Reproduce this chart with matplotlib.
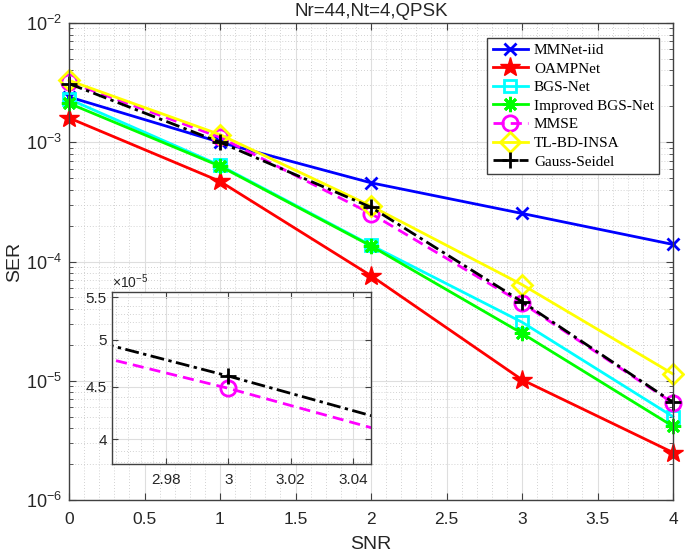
import numpy as np
import matplotlib
matplotlib.use('Agg')
import matplotlib.pyplot as plt
from matplotlib.ticker import MultipleLocator, FixedLocator, LogLocator, NullFormatter, FuncFormatter

# ---------------- data ----------------
snr = [0, 1, 2, 3, 4]
ser_mmnet = [2.40e-3, 1.00e-3, 4.57e-4, 2.53e-4, 1.39e-4]
ser_oamp = [1.60e-3, 4.70e-4, 7.60e-5, 1.02e-5, 2.50e-6]
ser_bgs = [2.30e-3, 6.40e-4, 1.37e-4, 3.10e-5, 5.00e-6]
ser_ibgs = [2.12e-3, 6.30e-4, 1.35e-4, 2.50e-5, 4.15e-6]
ser_mmse = [3.20e-3, 1.10e-3, 2.52e-4, 4.485e-5, 6.50e-6]
ser_tl = [3.30e-3, 1.16e-3, 2.92e-4, 6.40e-5, 1.14e-5]
ser_gs = [3.10e-3, 1.00e-3, 2.85e-4, 4.61e-5, 6.60e-6]

labels = ['MMNet-iid', 'OAMPNet', 'BGS-Net', 'Improved BGS-Net', 'MMSE',
          'TL-BD-INSA', 'Gauss-Seidel']
title = 'Nr=44,Nt=4,QPSK'
xticks_main = [0, 0.5, 1, 1.5, 2, 2.5, 3, 3.5, 4]
inset_xticks = [2.98, 3.0, 3.02, 3.04]
inset_yticks = [4e-5, 4.5e-5, 5e-5, 5.5e-5]
inset_ylabels = ['4', '4.5', '5', '5.5']

# ---------------- style ----------------
plt.rcParams['font.family'] = ['Liberation Sans', 'DejaVu Sans']
plt.rcParams['mathtext.fontset'] = 'custom'
plt.rcParams['mathtext.rm'] = 'Liberation Sans'
plt.rcParams['mathtext.it'] = 'Liberation Sans:italic'
plt.rcParams['mathtext.bf'] = 'Liberation Sans:bold'

axcol = '#404040'
txtcol = '#262626'
majgrid = '#dedede'
mingrid = '#c4c4c4'

asterisk = (8, 2, 0)
series = [
    (ser_mmnet, dict(color=(0, 0, 1), ls='-', marker='x', ms=9, mew=2, mfc='none')),
    (ser_oamp, dict(color=(1, 0, 0), ls='-', marker='*', ms=15, mew=1, mfc=(1, 0, 0))),
    (ser_bgs, dict(color=(0, 1, 1), ls='-', marker='s', ms=8, mew=2, mfc='none')),
    (ser_ibgs, dict(color=(0, 1, 0), ls='-', marker=asterisk, ms=11, mew=2, mfc='none')),
    (ser_mmse, dict(color=(1, 0, 1), ls=(0, (4, 2.2)), marker='o', ms=11, mew=2, mfc='none')),
    (ser_tl, dict(color=(1, 1, 0), ls='-', marker='D', ms=10, mew=2, mfc='none')),
    (ser_gs, dict(color=(0, 0, 0), ls=(0, (5, 1.6, 1.2, 1.6)), marker='+', ms=12, mew=2, mfc='none')),
]

fig = plt.figure(figsize=(6.85, 5.55), dpi=100)
ax = fig.add_axes([69 / 685, 1 - 500 / 555, (673 - 69) / 685, (500 - 23) / 555])

for (vals, st), lab in zip(series, labels):
    ax.plot(snr, vals, lw=2, label=lab, clip_on=False, **st)

ax.set_yscale('log')
ax.set_xlim(0, 4)
ax.set_ylim(1e-6, 1e-2)
ax.set_xticks(xticks_main)
ax.xaxis.set_major_formatter(FuncFormatter(lambda v, p: '%g' % v))
ax.xaxis.set_minor_locator(MultipleLocator(0.1))
ax.yaxis.set_major_locator(LogLocator(base=10, numticks=10))
ax.yaxis.set_minor_locator(LogLocator(base=10, subs=np.arange(2, 10), numticks=20))
ax.yaxis.set_minor_formatter(NullFormatter())

ax.grid(True, which='major', color=majgrid, lw=0.8, ls='-')
ax.grid(True, which='minor', color=mingrid, lw=0.6, ls=(0, (1, 2.5)))
ax.set_axisbelow(True)
for s in ax.spines.values():
    s.set_color(axcol)
    s.set_linewidth(1.0)
ax.tick_params(which='both', direction='in', top=True, right=True, colors=axcol,
               labelcolor=txtcol)
ax.tick_params(axis='x', labelsize=12.5, pad=9)
ax.tick_params(axis='y', labelsize=13, pad=5)
ax.tick_params(which='major', length=5)
ax.tick_params(axis='x', which='minor', length=0)
ax.tick_params(axis='y', which='minor', length=3)

ax.set_title(title, fontsize=13.5, color=txtcol, pad=5)
ax.set_xlabel('SNR', fontsize=14, color=txtcol, labelpad=6)
ax.set_ylabel('SER', fontsize=14, color=txtcol, labelpad=2)

leg = ax.legend(loc='upper right', bbox_to_anchor=(0.977, 0.9686), borderaxespad=0,
                prop={'family': 'Liberation Serif', 'size': 11}, fancybox=False,
                framealpha=1, edgecolor=axcol, handlelength=2.3, handletextpad=0.4,
                labelspacing=0.32, borderpad=0.35)
leg.get_frame().set_linewidth(1.0)

# ---------------- inset ----------------
ax2 = fig.add_axes([111.7 / 685, 1 - 464.3 / 555, (371 - 111.7) / 685, (464.3 - 292) / 555])
ax2.set_facecolor('white')
for idx in (4, 6):
    vals, st = series[idx]
    ax2.plot(snr, vals, lw=2, **st)
ax2.set_yscale('log')
ax2.set_xlim(2.9627, 3.0457)
ax2.set_ylim(3.782e-5, 5.566e-5)
ax2.yaxis.set_major_locator(FixedLocator(inset_yticks))
ax2.yaxis.set_major_formatter(FuncFormatter(
    lambda v, p: inset_ylabels[inset_yticks.index(min(inset_yticks, key=lambda t: abs(t - v)))]))
ax2.yaxis.set_minor_locator(FixedLocator(np.arange(3.8, 5.6, 0.1) * 1e-5))
ax2.yaxis.set_minor_formatter(NullFormatter())
ax2.xaxis.set_major_locator(FixedLocator(inset_xticks))
ax2.xaxis.set_major_formatter(FuncFormatter(lambda v, p: '%g' % round(v, 3)))
ax2.xaxis.set_minor_locator(FixedLocator(np.arange(2.964, 3.046, 0.004)))
ax2.grid(True, which='major', color=majgrid, lw=0.8, ls='-')
ax2.grid(True, which='minor', color=mingrid, lw=0.6, ls=(0, (1, 2.5)))
ax2.set_axisbelow(True)
for s in ax2.spines.values():
    s.set_color(axcol)
    s.set_linewidth(1.0)
ax2.tick_params(which='both', direction='in', top=True, right=True, colors=axcol,
                labelcolor=txtcol, labelsize=11)
ax2.tick_params(which='major', length=4)
ax2.tick_params(which='minor', length=0)
ax2.tick_params(axis='x', pad=6)
ax2.text(0.0, 1.005, r'$\times$10$^{-5}$', transform=ax2.transAxes, ha='left', va='bottom',
         fontsize=10, color=txtcol)

fig.savefig('out.png', dpi=100)
